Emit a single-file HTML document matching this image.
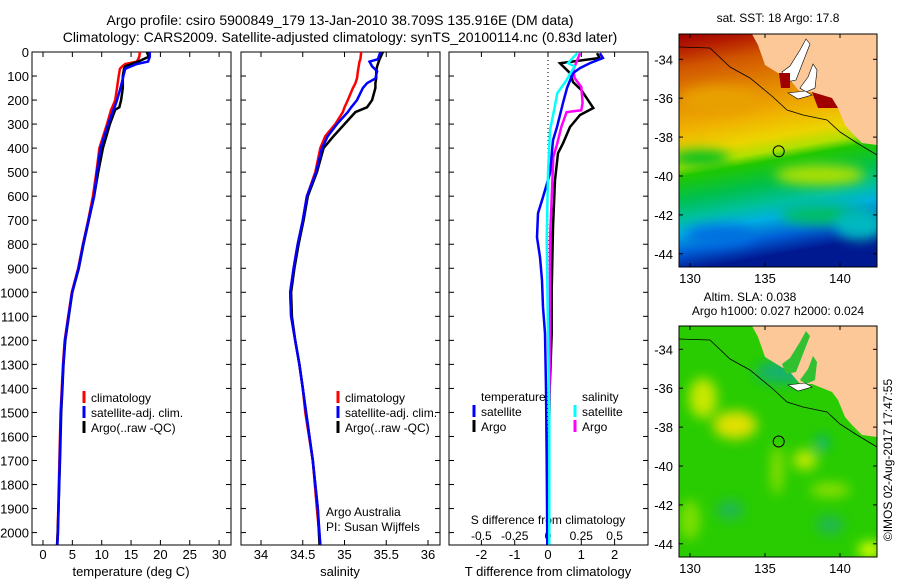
<!DOCTYPE html>
<html><head><meta charset="utf-8">
<style>
body{margin:0;background:#fff;}
svg{display:block;font-family:"Liberation Sans",sans-serif;}
text{fill:#000;}
</style></head>
<body>
<svg id="fig" width="900" height="580" viewBox="0 0 900 580" xmlns="http://www.w3.org/2000/svg">
<defs>
<linearGradient id="sstGrad" x1="0" y1="0" x2="0.15" y2="1">
<stop offset="0" stop-color="#a00000"/>
<stop offset="0.06" stop-color="#b41c00"/>
<stop offset="0.14" stop-color="#d05400"/>
<stop offset="0.28" stop-color="#e48800"/>
<stop offset="0.4" stop-color="#f0b000"/>
<stop offset="0.5" stop-color="#ecd400"/>
<stop offset="0.56" stop-color="#b0e000"/>
<stop offset="0.6" stop-color="#20c800"/>
<stop offset="0.7" stop-color="#00c050"/>
<stop offset="0.78" stop-color="#00c0a0"/>
<stop offset="0.84" stop-color="#00b0e0"/>
<stop offset="0.92" stop-color="#0060d8"/>
<stop offset="1" stop-color="#001890"/>
</linearGradient>
<filter id="blur6"><feGaussianBlur stdDeviation="6"/></filter>
<clipPath id="clipMap1"><rect x="679" y="34" width="198" height="233"/></clipPath>
<clipPath id="clipMap2"><rect x="679" y="326" width="198" height="231"/></clipPath>
</defs>

<text x="340" y="25" font-size="14" text-anchor="middle">Argo profile: csiro 5900849_179 13-Jan-2010 38.709S 135.916E (DM data)</text>
<text x="340" y="42" font-size="14" text-anchor="middle">Climatology: CARS2009. Satellite-adjusted climatology: synTS_20100114.nc (0.83d later)</text>

<g id="p1"></g>
<g id="p2"></g>
<g id="p3"></g>

<g id="map1">
<text x="778" y="22" font-size="12" text-anchor="middle">sat. SST: 18 Argo: 17.8</text>
<g clip-path="url(#clipMap1)">
<rect x="679" y="34" width="198" height="233" fill="url(#sstGrad)"/>
<g filter="url(#blur6)">
<ellipse cx="720" cy="100" rx="40" ry="14" fill="#e8a000"/>
<ellipse cx="700" cy="158" rx="30" ry="8" fill="#00c020"/>
<ellipse cx="820" cy="175" rx="45" ry="10" fill="#b0e000"/>
<ellipse cx="830" cy="215" rx="50" ry="10" fill="#00c060"/>
<ellipse cx="720" cy="235" rx="35" ry="10" fill="#0070e0"/>
<ellipse cx="860" cy="225" rx="25" ry="15" fill="#00b8c0"/>
</g>
<polygon points="752,34 758,45 765,65 778,73 790,80 800,92 812,92 832,100 838,108 845,125 852,133 862,143 877,145 877,34" fill="#fcc898"/>
<polygon points="782,72 790,66 800,50 806,39 810,44 803,62 796,80 786,82" fill="#fff" stroke="#000" stroke-width="0.6"/>
<polygon points="800,88 808,77 813,64 817,70 815,88 806,92" fill="#fff" stroke="#000" stroke-width="0.6"/>
<polygon points="788,93 805,91 812,95 798,99" fill="#fff" stroke="#000" stroke-width="0.6"/>
<polygon points="779,73 790,73 790,88 781,88" fill="#a00000"/>
<polygon points="812,92 832,98 838,108 818,108" fill="#a00000"/>
<polyline points="679,47 710,48 730,67 750,78 773,97 787,110 803,115 827,120 840,132 857,143 877,155" fill="none" stroke="#000" stroke-width="0.8"/>
<circle cx="778.7" cy="151.3" r="5.5" fill="none" stroke="#000" stroke-width="1"/>
</g>
<rect x="679" y="34" width="198" height="233" fill="none" stroke="#000" stroke-width="1"/>
</g>

<g id="map2">
<text x="750" y="301" font-size="12" text-anchor="middle">Altim. SLA: 0.038</text>
<text x="778" y="315" font-size="12" text-anchor="middle">Argo h1000: 0.027 h2000: 0.024</text>
<g clip-path="url(#clipMap2)">
<rect x="679" y="326" width="198" height="231" fill="#28cc00"/>
<g filter="url(#blur6)">
<ellipse cx="703" cy="398" rx="14" ry="20" fill="#c8e800"/>
<ellipse cx="735" cy="425" rx="22" ry="14" fill="#e0e000"/>
<ellipse cx="777" cy="470" rx="6" ry="25" fill="#90e000"/>
<ellipse cx="805" cy="460" rx="12" ry="10" fill="#c0e800"/>
<ellipse cx="830" cy="490" rx="20" ry="7" fill="#90e000"/>
<ellipse cx="690" cy="520" rx="10" ry="20" fill="#80e000"/>
<ellipse cx="870" cy="550" rx="12" ry="8" fill="#e0ff00"/>
<ellipse cx="785" cy="372" rx="30" ry="12" fill="#18b070"/>
<ellipse cx="822" cy="443" rx="6" ry="8" fill="#10b090"/>
<ellipse cx="730" cy="510" rx="14" ry="10" fill="#20b850"/>
<ellipse cx="830" cy="525" rx="14" ry="10" fill="#20b850"/>
</g>
<polygon points="752,326 758,337 765,357 778,365 790,372 800,384 812,384 832,392 838,400 845,417 852,425 862,435 877,437 877,326" fill="#fcc898"/>
<polygon points="782,364 790,358 800,342 806,331 810,336 803,354 796,372 786,374" fill="#30c030"/>
<polygon points="800,380 808,369 813,356 817,362 815,380 806,384" fill="#30c030"/>
<polygon points="788,385 805,383 812,387 798,391" fill="#fff" stroke="#000" stroke-width="0.6"/>
<polyline points="679,339 710,340 730,359 750,370 773,389 787,402 803,407 827,412 840,424 857,435 877,447" fill="none" stroke="#000" stroke-width="0.8"/>
<circle cx="778.7" cy="441.5" r="5.5" fill="none" stroke="#000" stroke-width="1"/>
</g>
<rect x="679" y="326" width="198" height="231" fill="none" stroke="#000" stroke-width="1"/>
</g>

<text transform="translate(892,460) rotate(-90)" font-size="12" text-anchor="middle">©IMOS 02-Aug-2017 17:47:55</text>

<script>
// ---- data ----
const depthTicks = [0,100,200,300,400,500,600,700,800,900,1000,1100,1200,1300,1400,1500,1600,1700,1800,1900,2000];
const tempTicks = [0,5,10,15,20,25,30];
const salTicks = [34,34.5,35,35.5,36];
const tdiffTicks = [-2,-1,0,1,2];
const sdiffTicks = [-0.5,-0.25,0,0.25,0.5];
const sdiffTickLabels = ["-0.5","-0.25","0","0.25","0.5"];

const tDepth = [0,20,40,50,60,70,100,150,200,230,240,300,400,500,600,700,800,900,1000,1100,1200,1300,1400,1500,1700,2000,2050];
const tClim = [16.5,16.4,16,14,13.5,13.1,12.9,12.6,12.3,11.8,11.6,10.9,9.6,9.1,8.5,7.7,6.8,6.0,4.9,4.3,3.7,3.4,3.2,3.0,2.8,2.5,2.4];
const tSat = [18.2,18.2,17.9,16,15,14,13.7,13.2,12.6,12.2,12.0,11.1,9.8,9.2,8.7,7.75,6.85,6.05,4.95,4.35,3.75,3.45,3.25,3.05,2.85,2.55,2.45];
const tArgo = [17.7,18,16.2,15,14,13.8,13.6,13.6,13.3,13.0,12.3,11.4,10.2,9.4,8.7,7.8,6.9,6.1,5.0,4.4,3.8,3.5,3.3,3.1,2.9,2.5,2.4];

const sDepth = [0,30,40,60,80,110,130,150,200,230,250,300,350,400,500,600,700,800,900,1000,1100,1200,1300,1400,1500,1700,1900,2050];
const sClim = [35.2,35.19,35.18,35.17,35.16,35.15,35.13,35.1,35.04,35.0,34.98,34.89,34.77,34.71,34.65,34.55,34.5,34.44,34.39,34.35,34.36,34.41,34.46,34.5,34.53,34.62,34.67,34.71];
const sSat = [35.43,35.4,35.3,35.33,35.39,35.37,35.27,35.22,35.15,35.08,35.04,34.91,34.8,34.73,34.66,34.55,34.5,34.44,34.39,34.35,34.36,34.41,34.46,34.5,34.54,34.62,34.68,34.71];
const sArgo = [35.46,35.42,35.41,35.39,35.38,35.38,35.37,35.37,35.33,35.27,35.13,35.0,34.87,34.75,34.67,34.56,34.51,34.45,34.4,34.36,34.37,34.41,34.46,34.5,34.54,34.62,34.68,34.7];

const dTSatDepth = [5,25,46,67,88,150,212,312,367,504,604,671,771,854,950,1062,1171,1400,1700,2050];
const dTSat = [1.56,1.65,1.26,0.96,0.75,0.57,0.45,0.27,0.15,0.06,-0.15,-0.3,-0.33,-0.24,-0.18,-0.15,-0.09,-0.06,-0.04,-0.02];
const dTArgoDepth = [5,25,35,47,88,125,158,233,262,312,380,421,533,729,992,1171,1400,1700,2050];
const dTArgo = [1.47,1.55,1.0,0.36,0.66,0.75,1.0,1.36,0.96,0.66,0.45,0.3,0.21,0.15,0.11,0.11,0.05,0.02,0.0];
const dSArgoDepth = [5,75,108,146,212,242,250,312,380,437,575,783,1171,1500,2050];
const dSArgo = [0.24,0.19,0.2,0.25,0.26,0.25,0.14,0.1,0.07,0.04,0.03,0.015,0.015,0.01,0.0];
const dSSatDepth = [5,46,60,125,171,229,325,504,783,1171,1500,2050];
const dSSat = [0.22,0.15,0.2,0.13,0.07,0.05,0.015,0,-0.01,0,0.01,0.01];

const mapLatTicks = [-34,-36,-38,-40,-42,-44];
const mapLonTicks = [130,135,140];

// ---- scales ----
const NS = "http://www.w3.org/2000/svg";
const yD = d => 52 + d * 0.2403;
const xT = t => 43 + t * 5.87;
const xS = s => 261 + (s - 34) * 83.5;
const xTd = t => 548 + t * 33.3;
const xSd = s => 548 + s * 133.2;
const TOP = 52, BOT = 545;
const P = [{g:'p1',x0:32,x1:231},{g:'p2',x0:241,x1:440},{g:'p3',x0:449,x1:648}];

function mk(tag, parent, attrs) {
  const e = document.createElementNS(NS, tag);
  for (const k in attrs) e.setAttribute(k, attrs[k]);
  parent.appendChild(e);
  return e;
}
function txt(parent, x, y, s, size, anchor) {
  const t = mk('text', parent, {x:x, y:y, 'font-size':size, 'text-anchor':anchor||'middle'});
  t.textContent = s;
  return t;
}

P.forEach((p, i) => {
  const g = document.getElementById(p.g);
  const fr = mk('rect', g, {x:p.x0, y:TOP, width:p.x1-p.x0, height:BOT-TOP, fill:'none', stroke:'#000', 'stroke-width':1});
  
  
  depthTicks.forEach(d => {
    mk('line', g, {x1:p.x0, x2:p.x0+5, y1:yD(d), y2:yD(d), stroke:'#000'});
    mk('line', g, {x1:p.x1, x2:p.x1-5, y1:yD(d), y2:yD(d), stroke:'#000'});
    if (i === 0) {
      const t = txt(g, 29, yD(d)+5, String(d), 13, 'end');
      
      
    }
  });
});

function xTicks(g, vals, labels, fx, ly, withTop) {
  vals.forEach((v, i) => {
    const x = fx(v);
    mk('line', g, {x1:x, x2:x, y1:BOT, y2:BOT-5, stroke:'#000'});
    if (withTop) mk('line', g, {x1:x, x2:x, y1:TOP, y2:TOP+5, stroke:'#000'});
    const t = txt(g, x, ly, labels[i], 13);
    
    
  });
}
function line(g, depths, vals, fx, color, w, name) {
  const pts = depths.map((d, i) => fx(vals[i]).toFixed(1) + ',' + yD(d).toFixed(1)).join(' ');
  const pl = mk('polyline', g, {points:pts, fill:'none', stroke:color, 'stroke-width':w});
  
  
}
function legend(g, x, y, color, label) {
  mk('line', g, {x1:x, x2:x, y1:y-11, y2:y+1, stroke:color, 'stroke-width':3});
  const t = txt(g, x+7, y, label, 12, 'start');
  
  
}

const g1 = document.getElementById('p1');
xTicks(g1, tempTicks, tempTicks.map(String), xT, 559, true);
const xl1 = txt(g1, 131, 576, 'temperature (deg C)', 13);


line(g1, tDepth, tClim, xT, '#ff0000', 2.5, 'temperature-climatology-line');
line(g1, tDepth, tArgo, xT, '#000000', 2.5, 'temperature-argo-line');
line(g1, tDepth, tSat, xT, '#0000ff', 2.5, 'temperature-satellite-line');
legend(g1, 84, 402, '#ff0000', 'climatology');
legend(g1, 84, 417, '#0000ff', 'satellite-adj. clim.');
legend(g1, 84, 432, '#000000', 'Argo(..raw -QC)');

const g2 = document.getElementById('p2');
xTicks(g2, salTicks, ['34','34.5','35','35.5','36'], xS, 559, true);
const xl2 = txt(g2, 340, 576, 'salinity', 13);


line(g2, sDepth, sClim, xS, '#ff0000', 2.5, 'salinity-climatology-line');
line(g2, sDepth, sArgo, xS, '#000000', 2.5, 'salinity-argo-line');
line(g2, sDepth, sSat, xS, '#0000ff', 2.5, 'salinity-satellite-line');
legend(g2, 338, 402, '#ff0000', 'climatology');
legend(g2, 338, 417, '#0000ff', 'satellite-adj. clim.');
legend(g2, 338, 432, '#000000', 'Argo(..raw -QC)');
const aa = txt(g2, 326, 516, 'Argo Australia', 12, 'start');


const pi = txt(g2, 326, 531, 'PI: Susan Wijffels', 12, 'start');



const g3 = document.getElementById('p3');
xTicks(g3, tdiffTicks, tdiffTicks.map(String), xTd, 559, false);
sdiffTicks.forEach(v => mk('line', g3, {x1:xSd(v), x2:xSd(v), y1:TOP, y2:TOP+5, stroke:'#000'}));
sdiffTicks.forEach((v, i) => {
  const t = txt(g3, xSd(v), 540, sdiffTickLabels[i], 12);
  
  
});
const st = txt(g3, 548, 524, 'S difference from climatology', 12);


const tt = txt(g3, 548, 576, 'T difference from climatology', 13);


const zl = mk('line', g3, {x1:xTd(0), x2:xTd(0), y1:TOP, y2:BOT, stroke:'#000', 'stroke-dasharray':'1,3'});


line(g3, dTArgoDepth, dTArgo, xTd, '#000000', 2.5, 't-diff-argo-line');
line(g3, dSArgoDepth, dSArgo, xSd, '#ff00ff', 2.5, 's-diff-argo-line');
line(g3, dTSatDepth, dTSat, xTd, '#0000ff', 2.5, 't-diff-satellite-line');
line(g3, dSSatDepth, dSSat, xSd, '#00ffff', 2.5, 's-diff-satellite-line');
const lt = txt(g3, 481, 401, 'temperature', 12, 'start');


const ls = txt(g3, 582, 401, 'salinity', 12, 'start');


legend(g3, 474, 416, '#0000ff', 'satellite');
legend(g3, 474, 431, '#000000', 'Argo');
legend(g3, 575, 416, '#00ffff', 'satellite');
legend(g3, 575, 431, '#ff00ff', 'Argo');

function mapAxes(id, top, bottom, latY0) {
  const g = document.getElementById(id);
  const yLat = lat => latY0 + (-34 - lat) * 19.45;
  const xLon = lon => 690 + (lon - 130) * 15;
  mapLatTicks.forEach(l => {
    const y = yLat(l);
    mk('line', g, {x1:679, x2:683, y1:y, y2:y, stroke:'#000'});
    mk('line', g, {x1:877, x2:873, y1:y, y2:y, stroke:'#000'});
    const t = txt(g, 673, y+5, String(l), 13, 'end');
    
    
  });
  mapLonTicks.forEach(l => {
    const x = xLon(l);
    mk('line', g, {x1:x, x2:x, y1:bottom, y2:bottom-4, stroke:'#000'});
    mk('line', g, {x1:x, x2:x, y1:top, y2:top+4, stroke:'#000'});
    const t = txt(g, x, bottom+16, String(l), 13);
    
    
  });
}
mapAxes('map1', 34, 267, 59.3);
mapAxes('map2', 326, 557, 349.3);
</script>
</svg>
</body></html>
